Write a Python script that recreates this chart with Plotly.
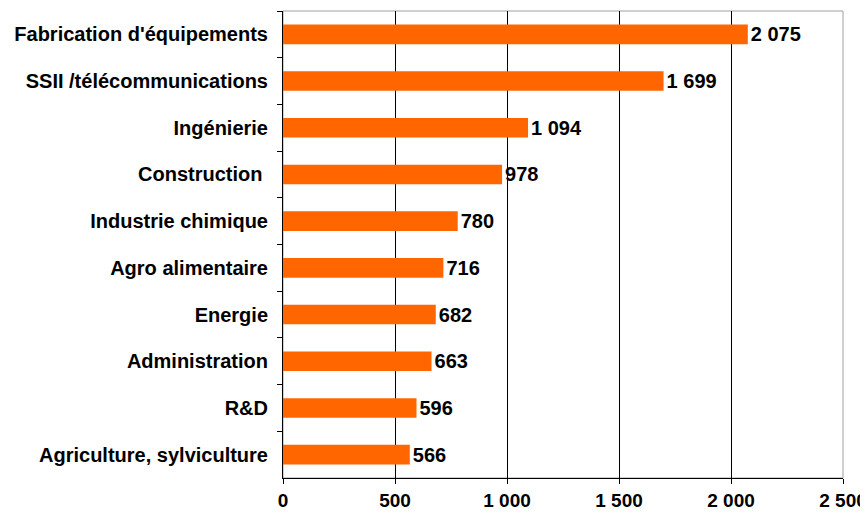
import plotly.graph_objects as go

categories = [
    "Fabrication d'équipements",
    "SSII /télécommunications",
    "Ingénierie",
    "Construction\u00a0",
    "Industrie chimique",
    "Agro alimentaire",
    "Energie",
    "Administration",
    "R&D",
    "Agriculture, sylviculture",
]
values = [2075, 1699, 1094, 978, 780, 716, 682, 663, 596, 566]
x_ticks = [0, 500, 1000, 1500, 2000, 2500]

def fmt(v):
    return f"{v:,}".replace(",", "\u00a0")

FONT = "Liberation Sans, Arial, sans-serif"
FS = 20

fig = go.Figure(
    go.Bar(
        x=values,
        y=categories,
        orientation="h",
        marker=dict(color="#FF6600", line=dict(width=0)),
        text=[fmt(v) for v in values],
        textposition="outside",
        cliponaxis=False,
        textfont=dict(family=FONT, size=FS, color="#000000", weight="bold"),
        width=0.42,
    )
)

# page body has an 8px margin, so the figure is sized/margined to compensate
fig.update_layout(
    width=860,
    height=507,
    margin=dict(l=275, r=25, t=3, b=37, autoexpand=False),
    plot_bgcolor="white",
    paper_bgcolor="white",
    showlegend=False,
    font=dict(family=FONT, size=FS, color="#000000"),
    uniformtext=dict(minsize=FS, mode="show"),
    shapes=[
        dict(
            type="rect", xref="paper", yref="paper", x0=0, x1=1, y0=0, y1=1,
            line=dict(color="#A0A0A0", width=1), layer="below",
        )
    ],
)

fig.update_xaxes(
    range=[0, 2500],
    tickvals=x_ticks,
    ticktext=[fmt(v) for v in x_ticks],
    showgrid=True,
    gridcolor="#000000",
    gridwidth=1,
    showline=True,
    linecolor="#000000",
    linewidth=1,
    ticks="outside",
    ticklen=5,
    tickcolor="#000000",
    tickfont=dict(family=FONT, size=19, color="#000000", weight="bold"),
    zeroline=False,
    automargin=False,
    fixedrange=True,
)

fig.update_yaxes(
    autorange="reversed",
    showgrid=False,
    showline=True,
    linecolor="#000000",
    linewidth=1,
    ticks="outside",
    tickson="boundaries",
    ticklen=5,
    tickcolor="#000000",
    tickfont=dict(family=FONT, size=FS, color="#000000", weight="bold"),
    ticklabelstandoff=10,
    automargin=False,
    fixedrange=True,
)

fig.write_html("out.html")
